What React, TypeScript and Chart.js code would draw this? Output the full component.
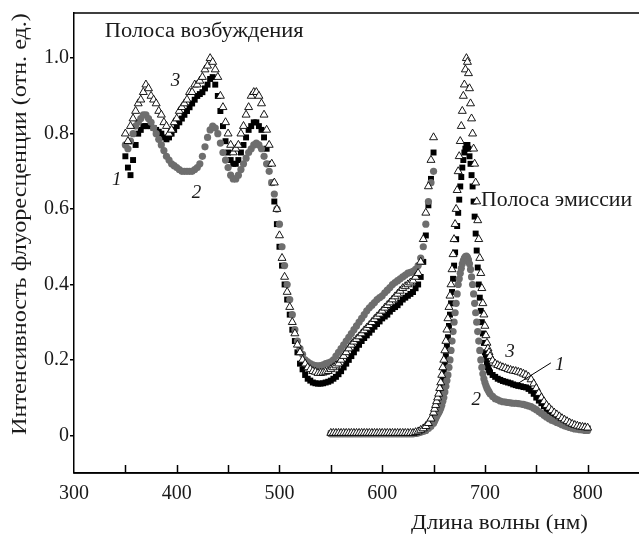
import { useEffect, useRef } from "react";
import { Chart, registerables } from "chart.js";

Chart.register(...registerables);

const FONT = '"Liberation Serif", "Times New Roman", serif';

// Excitation band (nm)
const excitationWavelengths = [
  350, 352.5, 355, 357.5, 360, 362.5, 365, 367.5, 370, 372.5,
  375, 377.5, 380, 382.5, 385, 387.5, 390, 392.5, 395, 397.5,
  400, 402.5, 405, 407.5, 410, 412.5, 415, 417.5, 420, 422.5,
  425, 427.5, 430, 432.5, 435, 437.5, 440, 442.5, 445, 447.5,
  450, 452.5, 455, 457.5, 460, 462.5, 465, 467.5, 470, 472.5,
  475, 477.5, 480, 482.5, 485, 487.5, 490, 492.5, 495, 497.5,
  500, 502.5, 505, 507.5, 510, 512.5, 515, 517.5, 520, 522.5,
  525, 527.5, 530, 532.5, 535, 537.5, 540, 542.5, 545, 547.5,
  550, 552.5, 555, 557.5, 560, 562.5, 565, 567.5, 570, 572.5,
  575, 577.5, 580, 582.5, 585, 587.5, 590, 592.5, 595, 597.5,
  600, 602.5, 605, 607.5, 610, 612.5, 615, 617.5, 620, 622.5,
  625, 627.5, 630, 632.5, 635, 637.5, 640, 642.5, 645, 647.5,
  650,
];
const excitation1 = [
  0.74, 0.71, 0.69, 0.73, 0.77, 0.80, 0.81, 0.82, 0.82, 0.82,
  0.82, 0.815, 0.81, 0.805, 0.80, 0.79, 0.785, 0.79, 0.80, 0.81,
  0.82, 0.83, 0.84, 0.85, 0.86, 0.87, 0.88, 0.89, 0.90, 0.905,
  0.91, 0.92, 0.93, 0.945, 0.95, 0.93, 0.90, 0.86, 0.82, 0.78,
  0.75, 0.73, 0.72, 0.72, 0.73, 0.75, 0.77, 0.79, 0.81, 0.82,
  0.83, 0.83, 0.82, 0.81, 0.79, 0.76, 0.72, 0.67, 0.62, 0.56,
  0.50, 0.45, 0.40, 0.36, 0.32, 0.28, 0.25, 0.22, 0.19, 0.175,
  0.16, 0.15, 0.145, 0.14, 0.138, 0.137, 0.137, 0.138, 0.14, 0.142,
  0.145, 0.15, 0.155, 0.162, 0.17, 0.18, 0.19, 0.20, 0.21, 0.22,
  0.23, 0.24, 0.25, 0.258, 0.265, 0.272, 0.28, 0.288, 0.295, 0.302,
  0.31, 0.315, 0.32, 0.328, 0.335, 0.34, 0.345, 0.352, 0.36, 0.365,
  0.37, 0.375, 0.38, 0.39, 0.40, 0.42, 0.46, 0.53, 0.61, 0.68,
  0.75,
];
const excitation2 = [
  0.77, 0.76, 0.78, 0.80, 0.82, 0.83, 0.84, 0.85, 0.85, 0.84,
  0.83, 0.815, 0.80, 0.785, 0.77, 0.755, 0.74, 0.73, 0.72, 0.715,
  0.71, 0.705, 0.70, 0.70, 0.70, 0.70, 0.70, 0.705, 0.71, 0.72,
  0.74, 0.765, 0.79, 0.81, 0.82, 0.815, 0.80, 0.775, 0.75, 0.73,
  0.71, 0.69, 0.68, 0.68, 0.69, 0.705, 0.72, 0.735, 0.75, 0.76,
  0.77, 0.775, 0.77, 0.76, 0.74, 0.72, 0.70, 0.67, 0.64, 0.60,
  0.56, 0.50, 0.45, 0.40, 0.36, 0.32, 0.28, 0.25, 0.23, 0.215,
  0.20, 0.195, 0.19, 0.187, 0.185, 0.184, 0.185, 0.187, 0.19, 0.192,
  0.195, 0.20, 0.21, 0.22, 0.23, 0.24, 0.25, 0.26, 0.27, 0.28,
  0.29, 0.30, 0.31, 0.32, 0.33, 0.338, 0.345, 0.352, 0.36, 0.365,
  0.37, 0.378, 0.385, 0.392, 0.40, 0.405, 0.41, 0.415, 0.42, 0.425,
  0.43, 0.432, 0.435, 0.44, 0.45, 0.47, 0.50, 0.56, 0.62, 0.67,
  0.70,
];
const excitation3 = [
  0.80, 0.78, 0.82, 0.84, 0.86, 0.88, 0.89, 0.91, 0.93, 0.92,
  0.90, 0.89, 0.88, 0.86, 0.85, 0.83, 0.82, 0.80, 0.81, 0.83,
  0.84, 0.86, 0.87, 0.88, 0.89, 0.91, 0.91, 0.93, 0.93, 0.94,
  0.95, 0.97, 0.98, 1.00, 0.99, 0.97, 0.95, 0.90, 0.87, 0.83,
  0.80, 0.77, 0.75, 0.76, 0.77, 0.80, 0.82, 0.85, 0.87, 0.90,
  0.91, 0.91, 0.90, 0.88, 0.85, 0.81, 0.77, 0.72, 0.67, 0.60,
  0.53, 0.47, 0.42, 0.38, 0.34, 0.30, 0.27, 0.24, 0.22, 0.20,
  0.19, 0.18, 0.175, 0.17, 0.168, 0.165, 0.165, 0.166, 0.168, 0.17,
  0.175, 0.18, 0.185, 0.19, 0.20, 0.21, 0.22, 0.23, 0.24, 0.248,
  0.255, 0.262, 0.27, 0.278, 0.285, 0.292, 0.30, 0.308, 0.315, 0.322,
  0.33, 0.338, 0.345, 0.352, 0.36, 0.368, 0.375, 0.383, 0.39, 0.395,
  0.40, 0.405, 0.41, 0.42, 0.43, 0.46, 0.52, 0.59, 0.66, 0.73,
  0.79,
];

// Emission band (nm)
const emissionWavelengths = [
  550, 552.5, 555, 557.5, 560, 562.5, 565, 567.5, 570, 572.5,
  575, 577.5, 580, 582.5, 585, 587.5, 590, 592.5, 595, 597.5,
  600, 602.5, 605, 607.5, 610, 612.5, 615, 617.5, 620, 622.5,
  625, 627.5, 630, 632.5, 635, 637.5, 640, 642.5, 645, 647.5,
  650,
  651, 652, 653, 654,
  655, 656, 657, 658, 659, 660, 661, 662, 663, 664,
  665, 666, 667, 668, 669, 670, 671, 672, 673, 674,
  675, 676, 677, 678, 679, 680, 681, 682, 683, 684,
  685, 686, 687, 688, 689, 690, 691, 692, 693, 694,
  695, 696, 697, 698, 699, 700, 701, 702, 703, 704,
  705,
  707.5, 710, 712.5, 715, 717.5, 720, 722.5, 725, 727.5, 730,
  732.5, 735, 737.5, 740, 742.5, 745, 747.5, 750, 752.5, 755,
  757.5, 760, 762.5, 765, 767.5, 770, 772.5, 775, 777.5, 780,
  782.5, 785, 787.5, 790, 792.5, 795, 797.5, 800,
];
const emission1 = [
  0.005, 0.005, 0.005, 0.005, 0.005, 0.005, 0.005, 0.005, 0.005, 0.005,
  0.005, 0.005, 0.005, 0.005, 0.005, 0.005, 0.005, 0.005, 0.005, 0.005,
  0.005, 0.005, 0.005, 0.005, 0.005, 0.005, 0.005, 0.005, 0.005, 0.005,
  0.005, 0.005, 0.005, 0.006, 0.008, 0.011, 0.015, 0.02, 0.028, 0.038,
  0.05,
  0.058, 0.066, 0.074, 0.082,
  0.09, 0.10, 0.115, 0.13, 0.15, 0.17, 0.19, 0.21, 0.235, 0.26,
  0.29, 0.32, 0.35, 0.38, 0.415, 0.45, 0.485, 0.52, 0.555, 0.59,
  0.625, 0.66, 0.685, 0.71, 0.73, 0.75, 0.76, 0.77, 0.77, 0.76,
  0.74, 0.72, 0.69, 0.66, 0.62, 0.58, 0.535, 0.49, 0.445, 0.40,
  0.365, 0.33, 0.30, 0.27, 0.245, 0.22, 0.205, 0.19, 0.18, 0.172,
  0.167,
  0.16, 0.155, 0.15, 0.147, 0.144, 0.142, 0.14, 0.138, 0.135, 0.133,
  0.131, 0.13, 0.128, 0.127, 0.123, 0.118, 0.11, 0.10, 0.092, 0.085,
  0.077, 0.07, 0.064, 0.058, 0.052, 0.047, 0.042, 0.038, 0.034, 0.031,
  0.028, 0.026, 0.024, 0.022, 0.021, 0.02, 0.019, 0.018,
];
const emission2 = [
  0.004, 0.004, 0.004, 0.004, 0.004, 0.004, 0.004, 0.004, 0.004, 0.004,
  0.004, 0.004, 0.004, 0.004, 0.004, 0.004, 0.004, 0.004, 0.004, 0.004,
  0.004, 0.004, 0.004, 0.004, 0.004, 0.004, 0.004, 0.004, 0.004, 0.004,
  0.004, 0.004, 0.004, 0.005, 0.006, 0.008, 0.01, 0.013, 0.018, 0.024,
  0.032,
  0.038, 0.044, 0.05, 0.055,
  0.06, 0.065, 0.072, 0.08, 0.09, 0.10, 0.115, 0.13, 0.145, 0.16,
  0.18, 0.20, 0.225, 0.25, 0.275, 0.30, 0.325, 0.35, 0.375, 0.40,
  0.415, 0.43, 0.443, 0.455, 0.463, 0.47, 0.474, 0.475, 0.472, 0.465,
  0.455, 0.44, 0.42, 0.40, 0.375, 0.35, 0.325, 0.30, 0.275, 0.25,
  0.225, 0.20, 0.18, 0.163, 0.15, 0.14, 0.132, 0.125, 0.12, 0.115,
  0.11,
  0.103, 0.097, 0.094, 0.091, 0.089, 0.088, 0.087, 0.086, 0.085, 0.085,
  0.084, 0.083, 0.082, 0.08, 0.078, 0.076, 0.072, 0.068, 0.063, 0.058,
  0.053, 0.048, 0.044, 0.04, 0.037, 0.034, 0.031, 0.028, 0.025, 0.023,
  0.021, 0.019, 0.017, 0.016, 0.015, 0.014, 0.013, 0.013,
];
const emission3 = [
  0.006, 0.006, 0.006, 0.006, 0.006, 0.006, 0.006, 0.006, 0.006, 0.006,
  0.006, 0.006, 0.006, 0.006, 0.006, 0.006, 0.006, 0.006, 0.006, 0.006,
  0.006, 0.006, 0.006, 0.006, 0.006, 0.006, 0.006, 0.006, 0.006, 0.006,
  0.006, 0.006, 0.006, 0.008, 0.01, 0.014, 0.018, 0.024, 0.032, 0.044,
  0.06,
  0.07, 0.08, 0.09, 0.10,
  0.11, 0.125, 0.14, 0.16, 0.18, 0.20, 0.225, 0.25, 0.28, 0.31,
  0.34, 0.37, 0.40, 0.44, 0.48, 0.52, 0.56, 0.60, 0.65, 0.70,
  0.74, 0.78, 0.82, 0.86, 0.90, 0.93, 0.97, 1.0, 0.99, 0.96,
  0.92, 0.88, 0.84, 0.80, 0.76, 0.72, 0.67, 0.62, 0.57, 0.52,
  0.47, 0.43, 0.39, 0.35, 0.32, 0.29, 0.265, 0.245, 0.23, 0.22,
  0.21,
  0.198, 0.19, 0.186, 0.183, 0.18, 0.178, 0.175, 0.173, 0.171, 0.17,
  0.168, 0.166, 0.163, 0.16, 0.155, 0.148, 0.137, 0.125, 0.112, 0.10,
  0.09, 0.08, 0.073, 0.066, 0.06, 0.055, 0.05, 0.045, 0.041, 0.037,
  0.033, 0.03, 0.027, 0.025, 0.023, 0.022, 0.021, 0.02,
];

const xTickLabels = [300, 400, 500, 600, 700, 800];
const yTickLabels = [0, 0.2, 0.4, 0.6, 0.8, 1.0];

const toXY = (xs: number[], ys: number[]) => xs.map((x, i) => ({ x, y: ys[i] }));

const isYLabel = (v: number) => yTickLabels.some((t) => Math.abs(t - v) < 1e-6);

function stretchedText(ctx: CanvasRenderingContext2D, text: string, x: number, y: number, sx: number) {
  ctx.save();
  ctx.translate(x, y);
  ctx.scale(sx, 1);
  ctx.fillText(text, 0, 0);
  ctx.restore();
}

const framePlugin = {
  id: "frame",
  afterDraw(chart: any) {
    const { ctx, chartArea, scales } = chart;
    const { left, top, bottom } = chartArea;
    const xs = scales.x;
    const ys = scales.y;
    const w = chart.width;
    ctx.save();
    ctx.strokeStyle = "#000";
    ctx.lineWidth = 1.5;
    // top frame line and bottom axis continue past the visible edge
    ctx.beginPath();
    ctx.moveTo(left, top);
    ctx.lineTo(w, top);
    ctx.moveTo(left, bottom);
    ctx.lineTo(w, bottom);
    ctx.stroke();
    // inward x ticks (major + minor)
    ctx.beginPath();
    for (const t of xs.ticks) {
      if (t.value > 800 || t.value <= 300) continue;
      const px = Math.round(xs.getPixelForValue(t.value)) + 0.5;
      ctx.moveTo(px, bottom);
      ctx.lineTo(px, bottom - 8);
    }
    ctx.stroke();

    ctx.fillStyle = "#1a1a1a";
    ctx.textBaseline = "middle";
    ctx.textAlign = "left";
    ctx.font = `20px ${FONT}`;
    stretchedText(ctx, "Полоса возбуждения", xs.getPixelForValue(330), ys.getPixelForValue(1.07), 1.12);
    stretchedText(ctx, "Полоса эмиссии", xs.getPixelForValue(696.3), ys.getPixelForValue(0.623), 1.09);

    ctx.font = `italic 19px ${FONT}`;
    ctx.textAlign = "center";
    const labels: [string, number, number][] = [
      ["1", 341.7, 0.678],
      ["2", 419.2, 0.642],
      ["3", 398.8, 0.94],
      ["3", 724.4, 0.22],
      ["1", 772.9, 0.187],
      ["2", 691.5, 0.094],
    ];
    for (const [s, xv, yv] of labels) {
      ctx.fillText(s, xs.getPixelForValue(xv), ys.getPixelForValue(yv));
    }
    ctx.lineWidth = 1;
    ctx.beginPath();
    ctx.moveTo(xs.getPixelForValue(764.2), ys.getPixelForValue(0.192));
    ctx.lineTo(xs.getPixelForValue(730.2), ys.getPixelForValue(0.134));
    ctx.stroke();

    // axis titles
    ctx.font = `20px ${FONT}`;
    ctx.textAlign = "center";
    stretchedText(ctx, "Длина волны (нм)", 499.5, 524, 1.15);
    ctx.translate(20, 224);
    ctx.rotate(-Math.PI / 2);
    ctx.font = `21px ${FONT}`;
    stretchedText(ctx, "Интенсивность флуоресценции (отн. ед.)", 0, 0, 1.15);
    ctx.restore();
  },
};

export default function App() {
  const ref = useRef<HTMLCanvasElement>(null);
  useEffect(() => {
    const canvas = ref.current!;
    const chart = new Chart(canvas, {
      type: "scatter",
      data: {
        datasets: [
          {
            label: "3",
            data: [...toXY(excitationWavelengths, excitation3), ...toXY(emissionWavelengths, emission3)],
            pointStyle: "triangle",
            pointRadius: 4.6,
            backgroundColor: "#ffffff",
            borderColor: "#000000",
            borderWidth: 0.9,
          },
          {
            label: "2",
            data: [...toXY(excitationWavelengths, excitation2), ...toXY(emissionWavelengths, emission2)],
            pointStyle: "circle",
            pointRadius: 3.6,
            backgroundColor: "#6e6e6e",
            borderColor: "#6e6e6e",
            borderWidth: 0,
          },
          {
            label: "1",
            data: [...toXY(excitationWavelengths, excitation1), ...toXY(emissionWavelengths, emission1)],
            pointStyle: "rect",
            pointRadius: 4.2,
            backgroundColor: "#000000",
            borderColor: "#000000",
            borderWidth: 0,
          },
        ],
      },
      options: {
        responsive: false,
        animation: false,
        devicePixelRatio: 1,
        layout: { padding: { top: 12, right: 5, left: 0, bottom: 0 } },
        plugins: { legend: { display: false }, tooltip: { enabled: false } },
        scales: {
          x: {
            type: "linear",
            min: 300,
            max: 850,
            afterFit: (s: any) => {
              s.height = 63;
            },
            border: { display: true, color: "#000", width: 1.5 },
            grid: { display: true, drawOnChartArea: false, drawTicks: false, color: "rgba(0,0,0,0)" },
            ticks: {
              stepSize: 50,
              autoSkip: false,
              maxRotation: 0,
              padding: 9,
              color: "#1a1a1a",
              font: { family: FONT, size: 20 },
              callback: (v: any) => (xTickLabels.includes(Number(v)) ? String(v) : ""),
            },
          },
          y: {
            type: "linear",
            min: -0.1,
            max: 1.12,
            afterFit: (s: any) => {
              s.width = 74;
            },
            border: { display: true, color: "#000", width: 1.5 },
            grid: {
              display: true,
              drawOnChartArea: false,
              drawTicks: true,
              tickLength: 4,
              lineWidth: 1.5,
              color: (c: any) => (c.tick && isYLabel(Math.round(Number(c.tick.value) * 10) / 10) ? "#000" : "rgba(0,0,0,0)"),
            },
            ticks: {
              stepSize: 0.2,
              includeBounds: false,
              padding: 1,
              color: "#1a1a1a",
              font: { family: FONT, size: 20 },
              callback: (v: any) => {
                const n = Math.round(Number(v) * 10) / 10;
                if (!isYLabel(n)) return "";
                return n === 0 ? "0" : n.toFixed(1);
              },
            },
          },
        },
      },
      plugins: [framePlugin],
    });
    return () => chart.destroy();
  }, []);

  return (
    <div style={{ position: "fixed", left: 0, top: 0, width: 639, height: 536, overflow: "hidden", background: "#fff" }}>
      <canvas ref={ref} width={648} height={536} style={{ width: 648, height: 536, display: "block" }} />
    </div>
  );
}
